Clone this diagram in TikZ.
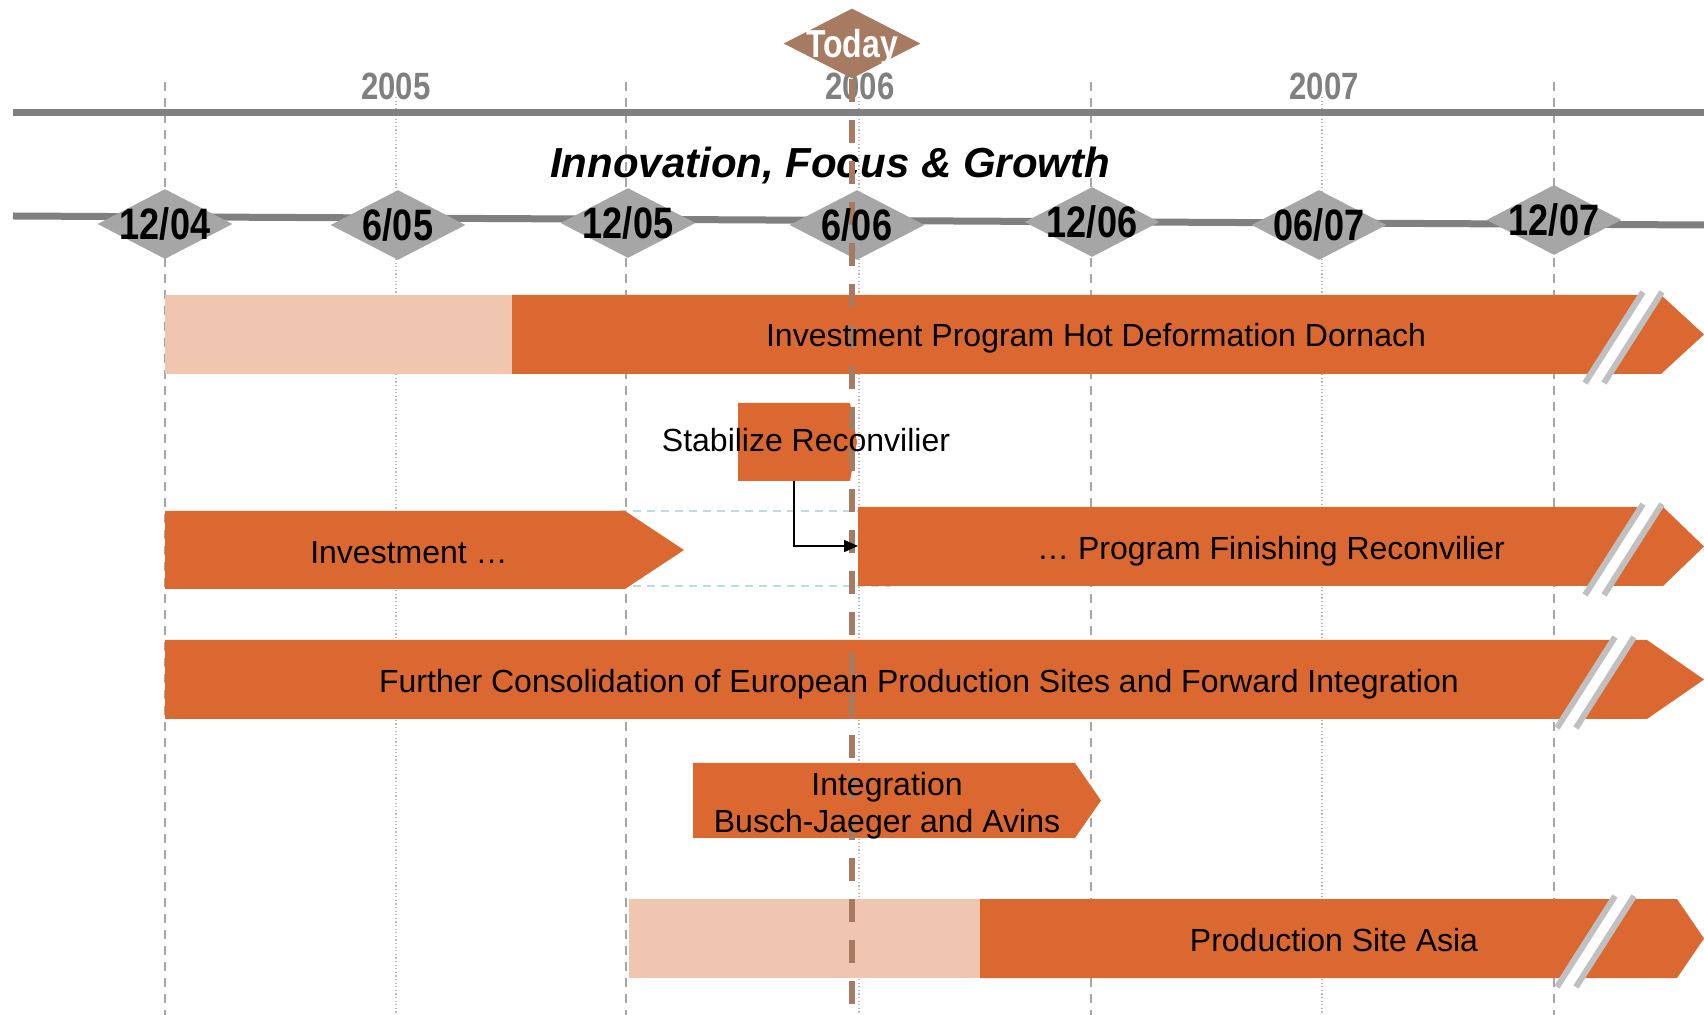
\documentclass[tikz,border=0pt]{standalone}
\usepackage{fontspec}
\setmainfont{Liberation Sans}
\newfontfamily\narrowfont[FakeStretch=0.82]{Liberation Sans}
\usetikzlibrary{shapes.geometric}
\usetikzlibrary{arrows.meta}
\definecolor{BarOrange}{RGB}{218,104,48}
\definecolor{BarPeach}{RGB}{240,198,176}
\definecolor{TodayBrown}{RGB}{166,123,98}
\definecolor{AxisGray}{RGB}{128,128,128}
\definecolor{MarkGray}{RGB}{166,166,166}
\definecolor{BreakGray}{RGB}{192,192,192}
\definecolor{GuideBlue}{RGB}{183,222,227}
\tikzset{
  axis/.style={AxisGray, line width=3.5pt},
  halfyear/.style={MarkGray, line width=0.8pt, dash pattern=on 4.5pt off 3.5pt},
  fullyear/.style={MarkGray!80, line width=0.6pt, dash pattern=on 0.6pt off 1.2pt},
  guide/.style={GuideBlue, line width=0.8pt, dash pattern=on 4pt off 3pt},
  datemark/.style={diamond, fill=MarkGray, inner sep=0pt,
    minimum width=67.5pt, minimum height=35pt},
  todaymark/.style={diamond, fill=TodayBrown, inner sep=0pt,
    minimum width=68.5pt, minimum height=35pt},
  datelabel/.style={inner sep=0pt, font=\narrowfont\bfseries\fontsize{22}{22}\selectfont},
  yearlabel/.style={inner sep=0pt, text=AxisGray,
    font=\narrowfont\bfseries\fontsize{19}{19}\selectfont},
  todaylabel/.style={inner sep=0pt, text depth=0pt, text=white,
    font=\narrowfont\bfseries\fontsize{19.5}{19.5}\selectfont},
  titletext/.style={inner sep=0pt, text depth=0pt,
    font=\bfseries\itshape\fontsize{21}{21}\selectfont},
  bartext/.style={inner sep=0pt, text depth=0pt, align=center,
    font=\fontsize{16}{18.5}\selectfont},
  todayline/.style={TodayBrown, line width=3pt, dash pattern=on 11.5pt off 9pt},
  breakline/.style={BreakGray, line width=3pt},
  flow/.style={black, line width=0.8pt, -{Triangle[length=7pt,width=6pt]}}
}
% bar with an arrow head: fill, left, body end, tip, top, bottom
\newcommand{\arrowbar}[6]{%
  \fill[#1] (#2,#5) -- (#3,#5) -- (#4,{(#5+#6)/2}) -- (#3,#6) -- (#2,#6) -- cycle;}
% two slashes cutting a bar: x at the foot, top, bottom
\newcommand{\barbreak}[3]{%
  \fill[white] (#1,#3+9) -- ++(58,-91) -- ++(19,0) -- ++(-58,91) -- cycle;
  \draw[breakline] (#1,#3+9) -- ++(58,-91);
  \draw[breakline] (#1+19,#3+9) -- ++(58,-91);}

\begin{document}
\begin{tikzpicture}[x=0.5pt,y=-0.5pt]
  \useasboundingbox (0,0) rectangle (1704,1015);

  % half-year and year guides
  \foreach \x in {165,626,1091,1554}
    \draw[halfyear] (\x,82) -- (\x,1015);
  \foreach \x in {396,859,1322}
    \draw[fullyear] (\x,97) -- (\x,1015);

  \foreach \x/\yr in {396/2005,860/2006,1324/2007}
    \node[yearlabel] (y\yr) at (\x,86) {\yr};
  \draw[axis] (13,113) -- (1704,113);
  \node[titletext] (title) at (830,162) {Innovation, Focus \& Growth};
  \draw[axis] (13,216) -- (1704,225);

  \foreach \x/\y [count=\i] in {165/224,398/225,628/223,857/225,1092/222,1319/225,1554/220}
    \node[datemark] (m\i) at (\x,\y) {};

  % programme bars
  \fill[BarPeach] (165,295) rectangle (512,374);
  \arrowbar{BarOrange}{512}{1661}{1704}{295}{374}
  \barbreak{1585}{295}{374}

  \arrowbar{BarOrange}{738}{850}{857}{403}{481}

  \draw[guide] (619,511) -- (858,511);
  \draw[guide] (619,586) -- (891,586);
  \arrowbar{BarOrange}{165}{625}{684}{511}{589}
  \arrowbar{BarOrange}{858}{1663}{1704}{507}{586}
  \barbreak{1585}{507}{586}

  \arrowbar{BarOrange}{165}{1647}{1704}{640}{719}
  \barbreak{1557}{640}{719}

  \arrowbar{BarOrange}{693}{1075}{1101}{763}{838}

  \fill[BarPeach] (629,899) rectangle (980,978);
  \arrowbar{BarOrange}{980}{1677}{1704}{899}{978}
  \barbreak{1557}{899}{978}

  % today
  \node[todaymark] (today) at (852,43.5) {};
  \node[todaylabel] (todaytxt) at (today) {Today};
  \coordinate (todayfoot) at (851.5,1015);
  \draw[todayline] (today.south) -- (today.south |- todayfoot);

  \foreach \d [count=\i] in {12/04,6/05,12/05,6/06,12/06,06/07,12/07}
    \node[datelabel] (d\i) at (m\i) {\d};

  \node[bartext] (dornach) at (1096,335) {Investment Program Hot Deformation Dornach};
  \node[bartext] (stabilize) at (806,440) {Stabilize Reconvilier};
  \node[bartext] (invest) at (409,552) {Investment …};
  \node[bartext] (finishing) at (1271,548) {… Program Finishing Reconvilier};
  \node[bartext] (europe) at (919,681) {Further Consolidation of European Production Sites and Forward Integration};
  \node[bartext] (integration) at (887,802) {Integration\\Busch-Jaeger and Avins};
  \node[bartext] (asia) at (1334,940) {Production Site Asia};

  \coordinate (stabfoot) at (794,481);
  \coordinate (finishin) at (858,546);
  \draw[flow] (stabfoot) |- (finishin);
\end{tikzpicture}
\end{document}
